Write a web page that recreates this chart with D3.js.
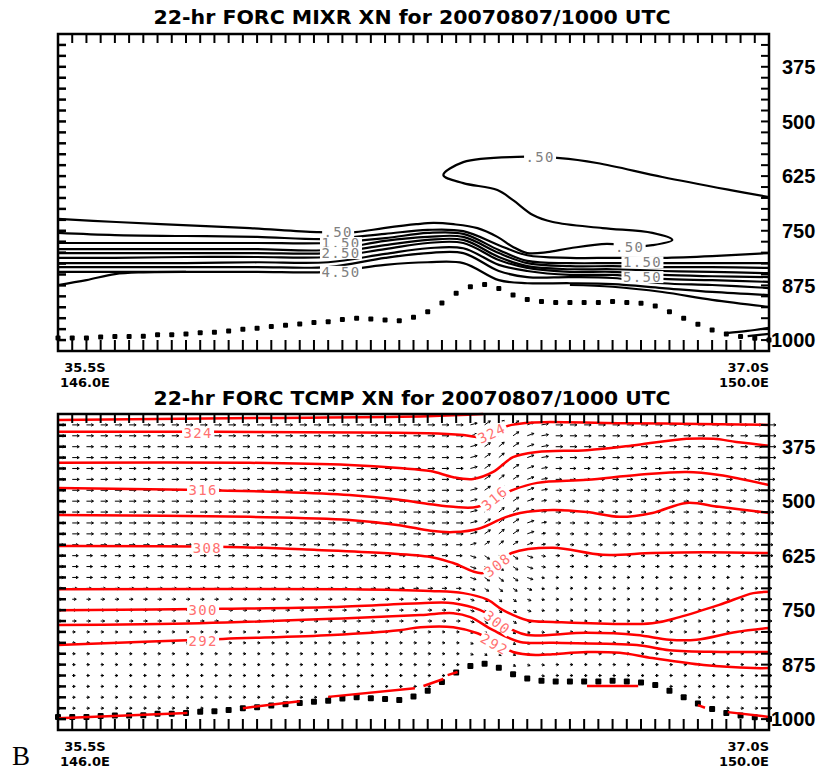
<!DOCTYPE html>
<html>
<head>
<meta charset="utf-8">
<script src="https://cdn.jsdelivr.net/npm/d3@7"></script>
<style>
  body { margin: 0; background: #fff; }
  svg { display: block; }
</style>
</head>
<body>
<div id="chart"></div>
<script>
// =============================================================
// DATA

let titleTop = '22-hr FORC MIXR XN for 20070807/1000 UTC';
let titleBot = '22-hr FORC TCMP XN for 20070807/1000 UTC';
let pressureLabels = [375, 500, 625, 750, 875, 1000];
let startLabels = ['35.5S', '146.0E'];
let endLabels = ['37.0S', '150.0E'];
let panelTag = 'B';

// surface pressure (hPa) at each of the 51 grid columns
let surfaceP = [995, 995, 995, 993, 992, 992, 991, 988, 988, 986,
                983, 982, 979, 975, 973, 969, 966, 963, 960, 958,
                953, 950, 952, 954, 956, 948, 935, 915, 893, 878,
                873, 882, 897, 907, 912, 914, 914, 914, 914, 912,
                914, 916, 922, 935, 950, 964, 977, 986, 992, 996, 1000];

// mixing ratio contours (g/kg): [column, hPa]
let mixr050 = [[0, 723], [4.1, 730], [8.8, 737], [13.5, 744], [18.2, 753], [20.9, 753],
               [22.9, 744], [25.2, 735], [26.4, 732], [27.8, 735], [29.5, 744], [30.9, 764],
               [32, 787], [33, 801], [34.4, 799], [36, 790], [38.6, 780], [40.5, 786],
               [41.8, 783], [43.2, 771], [41.8, 755], [38.3, 744], [34.8, 730], [33.4, 714],
               [32, 680], [30.9, 657], [28.5, 641], [27.1, 623], [28.5, 593], [32.3, 581],
               [35.3, 584], [37.9, 595], [42.5, 627], [47.3, 657], [50, 673]];
let bandCols = [0, 4, 9, 14, 19, 23, 26, 28.5, 31, 33, 36, 39, 42.5, 46, 50];
let mixr100 = [755, 760, 762, 764, 769, 757, 748, 751, 783, 806, 812, 812, 812, 808, 801];
let mixr150 = [778, 778, 778, 778, 778, 767, 755, 757, 794, 819, 824, 824, 824, 824, 824];
let mixr200 = [792, 792, 792, 792, 794, 773, 764, 764, 801, 824, 831, 831, 833, 833, 835];
let mixr250 = [801, 801, 801, 801, 801, 783, 771, 771, 810, 831, 838, 838, 842, 844, 847];
let mixr300 = [812, 812, 810, 810, 810, 792, 778, 778, 817, 835, 844, 844, 851, 854, 856];
let mixr350 = [824, 824, 824, 822, 822, 803, 790, 790, 828, 842, 851, 851, 860, 863, 867];
let mixr400 = [833, 833, 833, 833, 833, 812, 801, 801, 842, 856, 856, 858, 870, 874, 881];
let mixr450 = [844, 844, 844, 844, 844, 828, 822, 824, 863, 870, 870, 872, 881, 890, 897];
let mixr500West = [[0, 874], [2, 863], [4, 849], [6, 845], [9, 844]];
let mixr500East = [[36, 874], [39, 878], [42.5, 890], [46, 908], [50, 924]];
let mixrCornerA = [[47, 984], [48.5, 979], [50, 972]];
let mixrCornerB = [[48.5, 991], [50, 986]];
let mixrLabels = [
    { t: '.50', col: 19.7, p: 753 }, { t: '1.50', col: 19.9, p: 778 },
    { t: '2.50', col: 19.9, p: 801 }, { t: '4.50', col: 19.9, p: 844 },
    { t: '.50', col: 33.9, p: 581 }, { t: '.50', col: 40.2, p: 787 },
    { t: '1.50', col: 41.1, p: 822 }, { t: '5.50', col: 41.1, p: 856 }];

// potential temperature contours (K): [column, hPa]
let tcmp328 = [[0, 314], [15, 309], [26, 305], [29.9, 300]];
let tcmp324 = [[0, 341], [11, 341], [26, 344], [28.5, 348], [29.9, 353], [31.9, 325],
               [39.5, 321], [50, 325]];
let tcmp320 = [[0, 412], [13.5, 412], [20.5, 417], [24, 424], [26.2, 431], [27.8, 445],
               [29.2, 449], [30.6, 433], [32, 399], [33.7, 387], [37.2, 383], [40.7, 371],
               [44.2, 357], [46.1, 357], [47.7, 364], [50, 373]];
let tcmp316 = [[0, 470], [9, 474], [15.8, 479], [20.5, 486], [24, 497], [26.2, 507],
               [27.8, 513], [29.5, 513], [32, 474], [33.7, 458], [37.2, 451], [40.7, 440],
               [44.2, 433], [46.5, 440], [50, 463]];
let tcmp312 = [[0, 532], [13.5, 536], [20.5, 543], [24, 555], [26.2, 568], [27.8, 571],
               [29.7, 562], [31.3, 539], [32.5, 527], [34.8, 520], [37.2, 525], [39.5, 536],
               [41.8, 527], [44.2, 504], [46.5, 513], [50, 527]];
let tcmp308 = [[0, 603], [12, 605], [18.2, 612], [22.9, 619], [26.2, 628], [27.8, 642],
               [29.9, 665], [31.9, 619], [34.8, 607], [38.3, 623], [41.8, 619], [45.4, 617],
               [50, 619]];
let tcmp304 = [[0, 702], [20.5, 702], [26.2, 706], [28.5, 711], [30.2, 726], [31.3, 750],
               [33, 773], [34.8, 777], [41.8, 780], [43.7, 766], [46.5, 738], [48.9, 711],
               [50, 708]];
let tcmp300 = [[0, 750], [11.6, 747], [19.3, 743], [25.5, 734], [27.8, 734], [29.7, 750],
               [32, 796], [33, 807], [37.2, 802], [40.7, 807], [43, 818], [44.9, 818],
               [47.7, 800], [50, 791]];
let tcmp296 = [[0, 784], [10, 780], [19.3, 770], [25.5, 761], [27.8, 757], [29, 766],
               [30.6, 796], [32.5, 823], [34.8, 825], [40.7, 830], [43, 842], [46.6, 846],
               [50, 846]];
let tcmp292 = [[0, 830], [11.6, 816], [19.3, 807], [24, 796], [25.5, 789], [27.8, 789],
               [29.5, 803], [32, 846], [33.7, 853], [34.8, 851], [37.2, 846], [39.5, 848],
               [41.8, 860], [45.4, 876], [48.9, 883], [50, 883]];
// near-surface pieces, null = hidden under ground
let tcmp288 = [[0, 998], [9.1, 986], [9.1, null], [13, 975], [17, 959], [17, null],
               [19, 949], [25.1, 929], [25.1, null], [25.7, 924], [27.1, 908], [27.1, null],
               [27.4, 899], [28.1, 892], [28.1, null], [37.2, 924], [40.8, 924], [40.8, null],
               [45, 968], [45.5, 974], [45.5, null], [47.1, 984], [50, 995]];
let tcmpLabels = [
    { t: '324', col: 9.85, p: 344 }, { t: '316', col: 10.2, p: 474 },
    { t: '308', col: 10.5, p: 607 }, { t: '300', col: 10.2, p: 750 },
    { t: '292', col: 10.2, p: 821 }];
let tcmpLeeLabels = [
    { t: '324', col: 30.5, p: 344 }, { t: '316', col: 30.7, p: 493 },
    { t: '308', col: 30.9, p: 646 }, { t: '300', col: 30.9, p: 778 },
    { t: '292', col: 30.7, p: 828 }];
let tcmpLeeAngles = [-25, -40, -38, 38, 30];

// wind vectors: arrow length per level, west and east of the ridge
let windLevels = [325, 350, 375, 400, 425, 450, 475, 500, 525, 550, 575, 600, 625, 650,
                  675, 700, 725, 750, 775, 800, 825, 850, 875, 900, 925, 950, 975, 1000];
let windLenWest = [7, 7, 7, 7, 7, 7, 7, 7, 7, 7, 7, 6, 6, 6, 6, 5, 4, 4, 4, 3, 3, 3, 3, 3, 3, 3, 3, 3];
let windLenEast = [7, 7, 7, 7, 6, 6, 6, 5, 5, 5, 4, 4, 4, 4, 3, 3, 3, 3, 3, 3, 3, 3, 3, 3, 3, 3, 3, 3];
let windEastFrom = 34;
// tilt (deg, + = rising) of the arrows over the lee slope
let liftCols = [29, 30, 31, 32, 33, 34];
let liftUpper = [15, 35, 40, 35, 20, 10];     // above 600 hPa
let liftLower = [-20, -35, -40, -35, -20, -10]; // below 600 hPa

// =============================================================
// SUPPORT FUNCTIONS

function bandLine(values) {
    return bandCols.map(function (c, i) { return [c, values[i]]; });
}

function insertFrame(svg, x, y) {
// box, inward ticks, pressure labels
    let x0 = x(0), x1 = x(50), y0 = y(300), y1 = y(1025);
    let g = svg.append('g').attr('stroke', '#000').attr('stroke-width', 2);

    d3.range(325, 1001, 25).forEach(function (p) {
        g.append('line').attr('x1', x0).attr('x2', x0 + 8).attr('y1', y(p)).attr('y2', y(p))
         .attr('stroke-width', 2.5);
        g.append('line').attr('x1', x1 - 8).attr('x2', x1).attr('y1', y(p)).attr('y2', y(p));
    });
    d3.range(1, 50).forEach(function (c) {
        g.append('line').attr('x1', x(c)).attr('x2', x(c)).attr('y1', y0).attr('y2', y0 + 9);
        g.append('line').attr('x1', x(c)).attr('x2', x(c)).attr('y1', y1).attr('y2', y1 - 11);
    });
    g.append('rect').attr('x', x0).attr('y', y0).attr('width', x1 - x0).attr('height', y1 - y0)
     .attr('fill', 'none').attr('stroke-width', 2.5);

    svg.append('g').selectAll('text')
       .data(pressureLabels)
       .enter()
       .append('text')
       .text(function (d) { return d; })
       .attr('x', function (d) { return d === 1000 ? x1 + 2 : x1 + 13; })
       .attr('y', function (d) { return y(d); })
       .attr('dy', '0.36em')
       .attr('font-family', 'Liberation Sans, Arial, sans-serif')
       .attr('font-weight', 'bold')
       .attr('font-size', 20);

    let ends = svg.append('g')
                  .attr('font-family', 'DejaVu Sans, sans-serif')
                  .attr('font-weight', 'bold')
                  .attr('font-size', 13);
    startLabels.forEach(function (t, i) {
        ends.append('text').text(t).attr('x', x0 + 27).attr('y', y1 + 21 + i * 15)
            .attr('text-anchor', 'middle');
    });
    endLabels.forEach(function (t, i) {
        ends.append('text').text(t).attr('x', x1).attr('y', y1 + 21 + i * 15)
            .attr('text-anchor', 'end');
    });
}

function insertTitle(svg, text, yPos) {
    svg.append('text')
       .text(text)
       .attr('x', 412)
       .attr('y', yPos)
       .attr('text-anchor', 'middle')
       .attr('font-family', 'DejaVu Sans Condensed, DejaVu Sans, sans-serif')
       .attr('font-weight', 'bold')
       .attr('font-size', 20)
       .attr('textLength', 517)
       .attr('lengthAdjust', 'spacingAndGlyphs');
}

function insertContour(svg, x, y, pts, colour, width) {
    let line = d3.line()
                 .defined(function (d) { return d[1] !== null; })
                 .x(function (d) { return x(d[0]); })
                 .y(function (d) { return y(d[1]); })
                 .curve(d3.curveCatmullRom.alpha(0.5));
    return svg.append('path')
              .datum(pts)
              .attr('d', line)
              .attr('fill', 'none')
              .attr('stroke', colour)
              .attr('stroke-width', width)
              .attr('stroke-linejoin', 'round');
}

function insertLabel(svg, x, y, lab, angle, colour) {
// contour label with white mask under it
    let g = svg.append('g')
               .attr('transform', 'translate(' + x(lab.col) + ',' + y(lab.p) + ') rotate(' + angle + ')');
    let w = lab.t.length * 10 + 2;
    g.append('rect').attr('x', -w / 2).attr('y', -6).attr('width', w).attr('height', 12)
     .attr('fill', '#fff');
    g.append('text')
     .text(lab.t)
     .attr('text-anchor', 'middle')
     .attr('dy', '0.37em')
     .attr('font-family', 'DejaVu Sans Mono, monospace')
     .attr('font-size', 14)
     .attr('letter-spacing', 1.3)
     .attr('fill', colour);
}

function insertDots(svg, x, y, size) {
    svg.append('g').selectAll('rect')
       .data(surfaceP)
       .enter()
       .append('rect')
       .attr('x', function (d, i) { return x(i) - size / 2; })
       .attr('y', function (d) { return y(d) - size / 2; })
       .attr('width', size)
       .attr('height', size)
       .attr('rx', 1)
       .attr('fill', '#000');
}

function insertArrows(svg, x, y) {
    let g = svg.append('g').attr('stroke', '#000').attr('stroke-width', 1).attr('fill', 'none');
    for (let c = 0; c <= 50; c++) {
        windLevels.forEach(function (p, k) {
            if (p > surfaceP[c] - 8) return;
            let len = c >= windEastFrom ? windLenEast[k] : windLenWest[k];
            let li = liftCols.indexOf(c);
            let deg = li < 0 ? 0 : (p <= 600 ? liftUpper[li] : liftLower[li]);
            let a = -deg * Math.PI / 180;
            let tx = x(c), ty = y(p);
            let hx = tx + len * Math.cos(a), hy = ty + len * Math.sin(a);
            let h = 2.6;
            let b1 = a + Math.PI * 5 / 6, b2 = a - Math.PI * 5 / 6;
            g.append('path')
             .attr('d', 'M' + tx + ',' + ty + 'L' + hx + ',' + hy +
                        'M' + (hx + h * Math.cos(b1)) + ',' + (hy + h * Math.sin(b1)) +
                        'L' + hx + ',' + hy +
                        'L' + (hx + h * Math.cos(b2)) + ',' + (hy + h * Math.sin(b2)));
        });
    }
}

// =============================================================
// MAIN

let svg = d3.select('#chart')
            .append('svg')
            .attr('width', 821)
            .attr('height', 771);

let x = d3.scaleLinear().domain([0, 50]).range([58, 769]);
let yTop = d3.scaleLinear().domain([300, 1025]).range([34, 351]);
let yBot = d3.scaleLinear().domain([300, 1025]).range([414, 730]);

// ---- top panel: mixing ratio
insertTitle(svg, titleTop, 24);
insertDots(svg, x, yTop, 5);
let mixrLines = [mixr050, bandLine(mixr100), bandLine(mixr150), bandLine(mixr200),
                 bandLine(mixr250), bandLine(mixr300), bandLine(mixr350), bandLine(mixr400),
                 bandLine(mixr450), mixr500West, mixr500East, mixrCornerA, mixrCornerB];
mixrLines.forEach(function (pts) { insertContour(svg, x, yTop, pts, '#000', 2.2); });
mixrLabels.forEach(function (lab) { insertLabel(svg, x, yTop, lab, 0, '#808080'); });
insertFrame(svg, x, yTop);

// ---- bottom panel: potential temperature + wind
insertTitle(svg, titleBot, 405);
insertArrows(svg, x, yBot);
insertDots(svg, x, yBot, 6);
let tcmpLines = [tcmp328, tcmp324, tcmp320, tcmp316, tcmp312, tcmp308,
                 tcmp304, tcmp300, tcmp296, tcmp292, tcmp288];
tcmpLines.forEach(function (pts) { insertContour(svg, x, yBot, pts, '#ff0000', 2.5); });
tcmpLabels.forEach(function (lab) { insertLabel(svg, x, yBot, lab, 0, '#ff7070'); });
tcmpLeeLabels.forEach(function (lab, i) { insertLabel(svg, x, yBot, lab, tcmpLeeAngles[i], '#ff7070'); });
insertFrame(svg, x, yBot);

svg.append('text')
   .text(panelTag)
   .attr('x', 12)
   .attr('y', 765)
   .attr('font-family', 'Liberation Serif, serif')
   .attr('font-size', 27);
</script>
</body>
</html>
